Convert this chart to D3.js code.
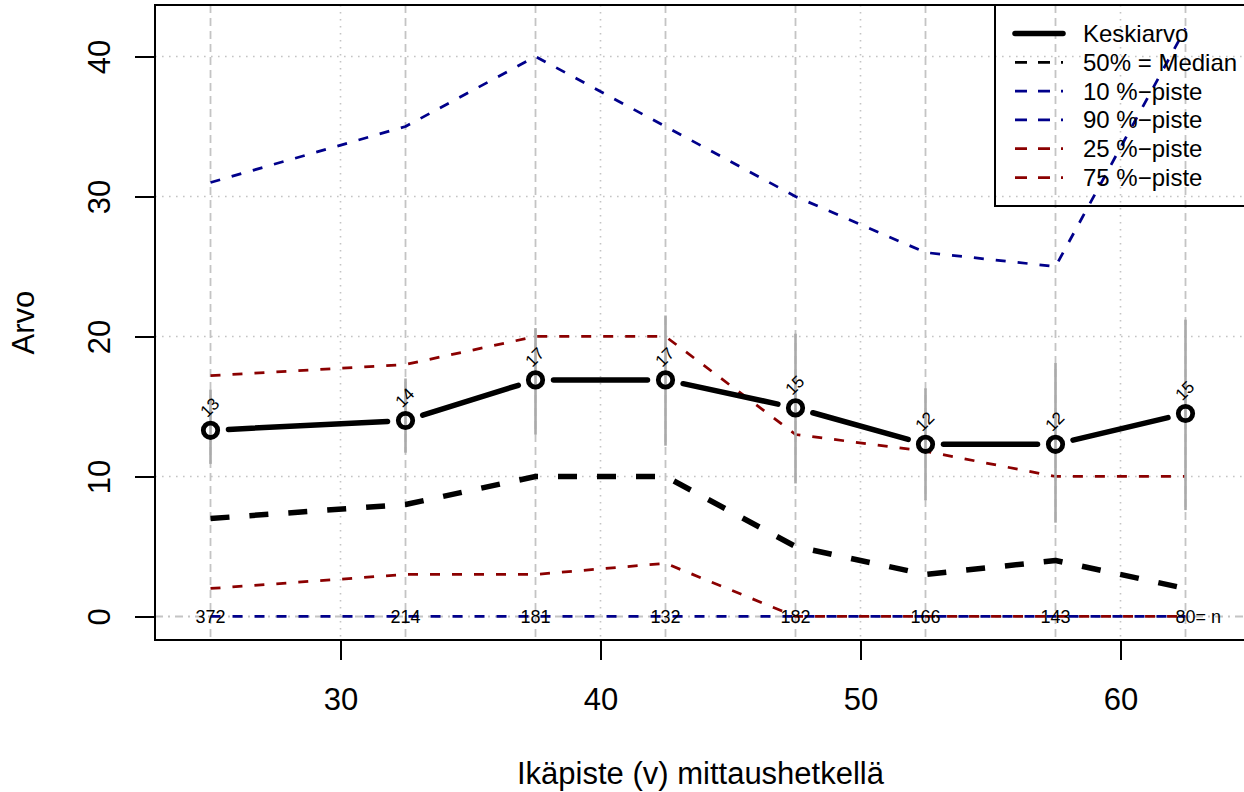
<!DOCTYPE html>
<html>
<head>
<meta charset="utf-8">
<script src="https://cdn.jsdelivr.net/npm/d3@7"></script>
<style>
  html, body { margin: 0; padding: 0; background: #fff; }
  svg { display: block; font-family: "Liberation Sans", Arial, Helvetica, sans-serif; }
</style>
</head>
<body>
<svg id="chart" width="1244" height="792"></svg>
<script>
// ---- data ----
const ages      = [25, 32.5, 37.5, 42.5, 47.5, 52.5, 57.5, 62.5];
const meanVals  = [13.3, 14.0, 16.9, 16.9, 14.9, 12.3, 12.3, 14.5];
const meanLabs  = ["13", "14", "17", "17", "15", "12", "12", "15"];
const errLow    = [10.9, 11.7, 13.0, 12.2, 9.5, 8.3, 6.7, 7.6];
const errHigh   = [16.2, 17.0, 20.6, 21.5, 20.2, 16.3, 18.1, 21.2];
const p50       = [7, 8, 10, 10, 5, 3, 4, 2];
const p10       = [0, 0, 0, 0, 0, 0, 0, 0];
const p90       = [31, 35, 40, 35, 30, 26, 25, 42];
const p25       = [2, 3, 3, 3.8, 0, 0, 0, 0];
const p75       = [17.2, 18, 20, 20, 13, 11.8, 10, 10];
const nCounts   = ["372", "214", "181", "132", "182", "166", "143", "80"];
const xTicks    = [30, 40, 50, 60];
const yTicks    = [0, 10, 20, 30, 40];
const legendLabels = ["Keskiarvo", "50% = Median", "10 %\u2212piste", "90 %\u2212piste", "25 %\u2212piste", "75 %\u2212piste"];

// ---- layout ----
const L = 155, R = 1246, T = 5, B = 640;
const BLUE = "#00008B", RED = "#8B0000", GRID = "#c4c4c4", BAR = "#aaaaaa";
const svg = d3.select("#chart");

const x = d3.scaleLinear().domain([22.865, 64.827]).range([L, R]);
const y = d3.scaleLinear().domain([-1.68, 43.68]).range([B, T]);

const gPlot = svg.append("g");

// grid: dotted at ticks
gPlot.selectAll("line.gx").data(xTicks).join("line")
  .attr("x1", d => x(d)).attr("x2", d => x(d)).attr("y1", T).attr("y2", B)
  .attr("stroke", GRID).attr("stroke-width", 1.6).attr("stroke-dasharray", "1.6,5.4");
gPlot.selectAll("line.gy").data(yTicks.filter(d => d !== 0)).join("line")
  .attr("x1", L).attr("x2", R).attr("y1", d => y(d)).attr("y2", d => y(d))
  .attr("stroke", GRID).attr("stroke-width", 1.6).attr("stroke-dasharray", "1.6,5.4");
// dashed verticals at ages
gPlot.selectAll("line.ga").data(ages).join("line")
  .attr("x1", d => x(d)).attr("x2", d => x(d)).attr("y1", T).attr("y2", B)
  .attr("stroke", GRID).attr("stroke-width", 1.8).attr("stroke-dasharray", "8,5");
// zero line dash-dot
gPlot.append("line")
  .attr("x1", L).attr("x2", R).attr("y1", y(0)).attr("y2", y(0))
  .attr("stroke", GRID).attr("stroke-width", 1.8).attr("stroke-dasharray", "8,5,2,5");

// legend (transparent)
const legX = 995, legY = T, legH = 201, rowY0 = 33.5, rowStep = 28.8;
svg.append("rect").attr("x", legX).attr("y", legY).attr("width", 260).attr("height", legH)
  .attr("fill", "none").attr("stroke", "#000").attr("stroke-width", 2);
const legStyles = [
  {c: "#000", w: 5.5, d: null},
  {c: "#000", w: 2.75, d: "12,11"},
  {c: BLUE, w: 2.75, d: "12,11"},
  {c: BLUE, w: 2.75, d: "12,11"},
  {c: RED, w: 2.75, d: "12,11"},
  {c: RED, w: 2.75, d: "12,11"}
];
legendLabels.forEach((lab, i) => {
  const yy = rowY0 + i * rowStep;
  const s = legStyles[i];
  svg.append("line").attr("x1", 1015).attr("x2", 1063).attr("y1", yy).attr("y2", yy)
    .attr("stroke", s.c).attr("stroke-width", s.w)
    .attr("stroke-dasharray", s.d).attr("stroke-linecap", s.d ? "butt" : "round");
  svg.append("text").attr("x", 1083).attr("y", yy + 8.5).attr("font-size", 24).attr("fill", "#000").text(lab);
});

// quantile lines
const line = d3.line().x((d, i) => x(ages[i])).y(d => y(d));
function qline(vals, color, w, dash) {
  gPlot.append("path").attr("d", line(vals)).attr("fill", "none")
    .attr("stroke", color).attr("stroke-width", w).attr("stroke-dasharray", dash)
    .attr("stroke-linejoin", "round");
}
qline(p10, BLUE, 2.75, "10,12");
qline(p90, BLUE, 2.75, "10,12");
qline(p25, RED, 2.75, "10,12");
qline(p75, RED, 2.75, "10,12");
qline(p50, "#000", 5.5, "19,20");

// error bars
gPlot.selectAll("line.err").data(ages).join("line")
  .attr("x1", d => x(d)).attr("x2", d => x(d))
  .attr("y1", (d, i) => y(errLow[i])).attr("y2", (d, i) => y(errHigh[i]))
  .attr("stroke", BAR).attr("stroke-width", 2.6);

// mean line with gaps (type "b")
const gap = 18;
for (let i = 0; i < ages.length - 1; i++) {
  const x1 = x(ages[i]), y1 = y(meanVals[i]), x2 = x(ages[i + 1]), y2 = y(meanVals[i + 1]);
  const len = Math.hypot(x2 - x1, y2 - y1);
  const ux = (x2 - x1) / len, uy = (y2 - y1) / len;
  gPlot.append("line")
    .attr("x1", x1 + ux * gap).attr("y1", y1 + uy * gap)
    .attr("x2", x2 - ux * gap).attr("y2", y2 - uy * gap)
    .attr("stroke", "#000").attr("stroke-width", 5.5).attr("stroke-linecap", "round");
}
gPlot.selectAll("circle.m").data(ages).join("circle")
  .attr("cx", d => x(d)).attr("cy", (d, i) => y(meanVals[i])).attr("r", 7.2)
  .attr("fill", "none").attr("stroke", "#000").attr("stroke-width", 4.8);

// mean labels rotated
gPlot.selectAll("text.ml").data(ages).join("text")
  .attr("transform", (d, i) => `translate(${x(d) - 1},${y(meanVals[i]) - 23}) rotate(-45)`)
  .attr("text-anchor", "middle").attr("dy", "0.36em")
  .attr("font-size", 17).attr("fill", "#000").text((d, i) => meanLabs[i]);

// n labels
gPlot.selectAll("text.nl").data(ages).join("text")
  .attr("x", d => x(d)).attr("y", y(0)).attr("dy", "0.36em")
  .attr("text-anchor", "middle").attr("font-size", 18).attr("fill", "#000")
  .text((d, i) => nCounts[i]);
gPlot.append("text").attr("x", x(ages[ages.length - 1]) + 10).attr("y", y(0)).attr("dy", "0.36em")
  .attr("font-size", 18).attr("fill", "#000").text("= n");

// box
svg.append("rect").attr("x", L).attr("y", T).attr("width", R - L).attr("height", B - T)
  .attr("fill", "none").attr("stroke", "#000").attr("stroke-width", 2);

// axes
const xAxis = d3.axisBottom(x).tickValues(xTicks).tickSize(20).tickPadding(0).tickFormat(d3.format("d"));
const gx = svg.append("g").attr("transform", `translate(0,${B})`).call(xAxis);
gx.select(".domain").remove();
gx.selectAll(".tick line").attr("stroke", "#000").attr("stroke-width", 2);
gx.selectAll(".tick text").attr("font-size", 31).attr("fill", "#000")
  .attr("dy", null).attr("y", 70);

const yAxis = d3.axisLeft(y).tickValues(yTicks).tickSize(20).tickFormat(d3.format("d"));
const gy = svg.append("g").attr("transform", `translate(${L},0)`).call(yAxis);
gy.select(".domain").remove();
gy.selectAll(".tick line").attr("stroke", "#000").attr("stroke-width", 2);
gy.selectAll(".tick text").attr("font-size", 31).attr("fill", "#000")
  .attr("x", null).attr("dy", null).attr("text-anchor", "middle")
  .attr("transform", "translate(-45,0) rotate(-90)");

// axis titles
svg.append("text").attr("x", (L + R) / 2).attr("y", 784).attr("text-anchor", "middle")
  .attr("font-size", 31).attr("fill", "#000").text("Ikäpiste (v) mittaushetkellä");
svg.append("text").attr("transform", `translate(34,${(T + B) / 2}) rotate(-90)`)
  .attr("text-anchor", "middle").attr("font-size", 31).attr("fill", "#000").text("Arvo");
</script>
</body>
</html>
